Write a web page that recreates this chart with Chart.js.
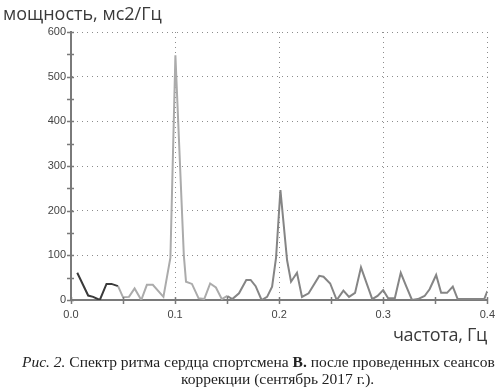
<!DOCTYPE html>
<html>
<head>
<meta charset="utf-8">
<script src="https://cdn.jsdelivr.net/npm/chart.js@4.4.0/dist/chart.umd.min.js"></script>
<style>
  body { margin: 0; background: #fff; }
  #wrap { position: relative; width: 503px; height: 390px; overflow: hidden; }
  #chart { position: absolute; left: 0; top: 0; }
  .axisTitle { position: absolute; font-family: "Open Sans"; font-size: 18px; color: #3a3a3a; white-space: nowrap; }
  #yTitle { left: 3px; top: 1px; }
  #xTitle { left: 393px; top: 322px; letter-spacing: -0.3px; }
  .cap { position: absolute; font-family: "Liberation Serif"; font-size: 15.5px; color: #222; white-space: nowrap; }
  #cap1 { left: 22px; top: 353px; }
  #cap2 { left: 181px; top: 370px; }
</style>
</head>
<body>
<div id="wrap">
  <canvas id="chart" width="503" height="390"></canvas>
  <div class="axisTitle" id="yTitle">мощность, мс2/Гц</div>
  <div class="axisTitle" id="xTitle">частота, Гц</div>
  <div class="cap" id="cap1"><i>Рис. 2.</i> Спектр ритма сердца спортсмена <b>В.</b> после проведенных сеансов</div>
  <div class="cap" id="cap2">коррекции (сентябрь 2017 г.).</div>
</div>
<script>
// spectrum: frequency (Hz) and power (ms2/Hz)
const freqHz = [0.006, 0.0165, 0.0213, 0.0277, 0.0341, 0.0389, 0.0452, 0.05, 0.0557, 0.0611,
  0.0675, 0.0729, 0.0786, 0.0888, 0.0955, 0.1003, 0.1084, 0.1105, 0.1162, 0.1225,
  0.128, 0.1337, 0.1392, 0.1449, 0.1502, 0.155, 0.1614, 0.1684, 0.1726, 0.1774,
  0.1831, 0.1884, 0.1932, 0.197, 0.2012, 0.2076, 0.2114, 0.2171, 0.2219, 0.2283,
  0.2385, 0.2426, 0.249, 0.2553, 0.2617, 0.2671, 0.2729, 0.2786, 0.2894, 0.2945,
  0.2999, 0.3047, 0.3111, 0.3168, 0.3222, 0.3276, 0.3333, 0.3397, 0.3445, 0.3508,
  0.3556, 0.3613, 0.3668, 0.3715, 0.3779, 0.397, 0.4];
const powerMs2 = [61, 10, 7, 0, 36, 36, 31, 6, 7, 26,
  0, 34, 34, 7, 95, 548, 100, 41, 36, 4,
  2, 37, 28, 2, 9, 2, 15, 45, 45, 31,
  0, 7, 30, 95, 246, 89, 41, 61, 7, 15,
  54, 52, 37, 0, 21, 7, 16, 73, 2, 9,
  22, 4, 4, 61, 30, 0, 2, 9, 24, 56,
  16, 16, 30, 2, 2, 2, 20];

// VLF / LF / HF bands, each drawn in its own grey
const bandEdges = [0.04, 0.15];
const bandColors = ['#3a3a3a', '#ababab', '#858585'];

function bandColor(f) {
  if (f < bandEdges[0]) return bandColors[0];
  if (f < bandEdges[1]) return bandColors[1];
  return bandColors[2];
}

function isMultiple(v, step) {
  const r = v / step;
  return Math.abs(r - Math.round(r)) < 1e-6;
}

// little tick marks that cross the axis lines
const crossTicks = {
  id: 'crossTicks',
  afterDraw(chart) {
    const c = chart.ctx;
    const xs = chart.scales.x, ys = chart.scales.y;
    const left = chart.chartArea.left, bottom = chart.chartArea.bottom;
    c.save();
    c.strokeStyle = '#7a7a7a';
    c.lineWidth = 1.5;
    c.beginPath();
    ys.ticks.forEach(t => {
      const py = Math.round(ys.getPixelForValue(t.value)) + 0.5;
      c.moveTo(left - 4, py);
      c.lineTo(left + 3, py);
    });
    xs.ticks.forEach(t => {
      const px = Math.round(xs.getPixelForValue(t.value)) + 0.5;
      c.moveTo(px, bottom - 3);
      c.lineTo(px, bottom + 4);
    });
    c.stroke();
    c.restore();
  }
};

const ctx = document.getElementById('chart').getContext('2d');
const chart = new Chart(ctx, {
  type: 'line',
  data: {
    datasets: [{
      data: freqHz.map((f, i) => ({ x: f, y: powerMs2[i] })),
      borderColor: '#999',
      borderWidth: 2,
      pointRadius: 0,
      tension: 0,
      segment: {
        borderColor: s => bandColor(s.p0.parsed.x)
      }
    }]
  },
  options: {
    responsive: false,
    animation: false,
    layout: { padding: { left: 0, top: 32, right: 10, bottom: 60 } },
    plugins: { legend: { display: false }, tooltip: { enabled: false } },
    scales: {
      x: {
        type: 'linear',
        min: 0,
        max: 0.4,
        afterFit: s => { s.height = 30; },
        ticks: {
          stepSize: 0.05,
          autoSkip: false,
          maxRotation: 0,
          padding: 8,
          color: '#444',
          font: { family: 'Liberation Sans', size: 11 },
          callback: v => isMultiple(v, 0.1) ? v.toFixed(1) : ''
        },
        grid: {
          drawTicks: false,
          lineWidth: 1,
          color: c => (c.tick && c.tick.value > 0 && isMultiple(c.tick.value, 0.1)) ? '#8c8c8c' : 'rgba(0,0,0,0)'
        },
        border: { display: true, color: '#7a7a7a', width: 2, dash: [1, 4] }
      },
      y: {
        min: 0,
        max: 600,
        afterFit: s => { s.width = 71; },
        ticks: {
          stepSize: 50,
          padding: 5,
          color: '#444',
          font: { family: 'Liberation Sans', size: 11 },
          callback: v => v % 100 === 0 ? v : ''
        },
        grid: {
          drawTicks: false,
          lineWidth: 1,
          color: c => (c.tick && c.tick.value > 0 && c.tick.value % 100 === 0) ? '#8c8c8c' : 'rgba(0,0,0,0)'
        },
        border: { display: true, color: '#7a7a7a', width: 2, dash: [1, 4] }
      }
    }
  },
  plugins: [crossTicks]
});
</script>
</body>
</html>
